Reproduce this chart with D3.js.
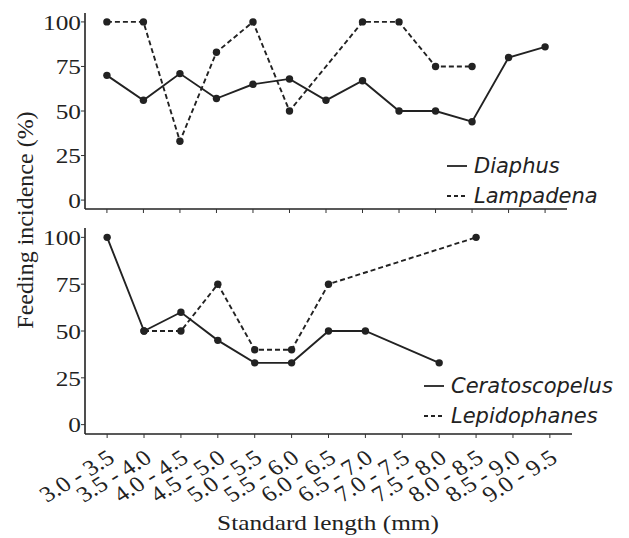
<!DOCTYPE html>
<html>
<head>
<meta charset="utf-8">
<script src="https://cdn.jsdelivr.net/npm/d3@7"></script>
<style>
  body { margin: 0; background: #fff; }
  .serif-text { font-family: 'Liberation Serif', 'Times New Roman', serif; fill: #222; }
  .legend-text { font-family: 'DejaVu Sans', Verdana, sans-serif; font-style: italic; fill: #222; }
</style>
</head>
<body>
<div id="chart"></div>
<script>
const sizeClasses = ['3.0 - 3.5', '3.5 - 4.0', '4.0 - 4.5', '4.5 - 5.0', '5.0 - 5.5', '5.5 - 6.0',
  '6.0 - 6.5', '6.5 - 7.0', '7.0 - 7.5', '7.5 - 8.0', '8.0 - 8.5', '8.5 - 9.0', '9.0 - 9.5'];
const yTicks = [0, 25, 50, 75, 100];

// null = no fish measured in that size class
const diaphus = [70, 56, 71, 57, 65, 68, 56, 67, 50, 50, 44, 80, 86];
const lampadena = [100, 100, 33, 83, 100, 50, null, 100, 100, 75, 75, null, null];
const ceratoscopelus = [100, 50, 60, 45, 33, 33, 50, 50, null, 33, null, null, null];
const lepidophanes = [null, 50, 50, 75, 40, 40, 75, null, null, null, 100, null, null];

const width = 629;
const height = 538;
const axisLeft = 85;
// the source figure is a bit wider than tall, serif text is stretched to match
const stretch = 1.15;

const svg = d3.select('#chart').append('svg')
  .attr('width', width)
  .attr('height', height);

/* Method to draw one panel with two series and its legend
   Params: @top / @bottom / @right are the pixel limits of the panel
           @series is a list of { name, values, dashed }
           @legendX, @legendY position the legend block
   Returns the x scale so the labels under the last panel can use it
*/
function AppendPanel(top, bottom, right, series, legendX, legendY) {
  const x = d3.scalePoint()
    .domain(sizeClasses)
    .range([axisLeft, right])
    .padding(0.6);
  const y = d3.scaleLinear().domain([-5, 105]).range([bottom, top]);

  // axes lines
  svg.append('line')
    .attr('x1', axisLeft).attr('x2', axisLeft)
    .attr('y1', top).attr('y2', bottom)
    .attr('stroke', '#222').attr('stroke-width', 1.6);
  svg.append('line')
    .attr('x1', axisLeft).attr('x2', right)
    .attr('y1', bottom).attr('y2', bottom)
    .attr('stroke', '#222').attr('stroke-width', 1.6);

  // y ticks and labels
  yTicks.forEach((t) => {
    svg.append('line')
      .attr('x1', axisLeft - 4).attr('x2', axisLeft)
      .attr('y1', y(t)).attr('y2', y(t))
      .attr('stroke', '#333').attr('stroke-width', 1);
    svg.append('text')
      .classed('serif-text', true)
      .attr('transform', `translate(${axisLeft - 4},${y(t)}) scale(${stretch},1)`)
      .attr('dy', '0.35em')
      .attr('text-anchor', 'end')
      .style('font-size', '22px')
      .text(t);
  });

  // x ticks
  sizeClasses.forEach((c) => {
    svg.append('line')
      .attr('x1', x(c)).attr('x2', x(c))
      .attr('y1', bottom).attr('y2', bottom + 4)
      .attr('stroke', '#333').attr('stroke-width', 1);
  });

  const line = d3.line()
    .x((d) => x(d.c))
    .y((d) => y(d.v));

  series.forEach((s) => {
    // gaps are bridged, so drop missing values before drawing the path
    const pts = s.values.map((v, i) => ({ c: sizeClasses[i], v })).filter((d) => d.v !== null);
    svg.append('path')
      .datum(pts)
      .attr('d', line)
      .attr('fill', 'none')
      .attr('stroke', '#222')
      .attr('stroke-width', 1.9)
      .attr('stroke-dasharray', s.dashed ? '5,3' : null);
    svg.selectAll(null)
      .data(pts)
      .enter()
      .append('circle')
      .attr('cx', (d) => x(d.c))
      .attr('cy', (d) => y(d.v))
      .attr('r', 3.7)
      .attr('fill', '#222');
  });

  // legend
  series.forEach((s, i) => {
    const ly = legendY + i * 30;
    svg.append('line')
      .attr('x1', legendX).attr('x2', legendX + 20)
      .attr('y1', ly - 7).attr('y2', ly - 7)
      .attr('stroke', '#222')
      .attr('stroke-width', 1.8)
      .attr('stroke-dasharray', s.dashed ? '4,3' : null);
    svg.append('text')
      .classed('legend-text', true)
      .attr('x', legendX + 27)
      .attr('y', ly)
      .style('font-size', '21px')
      .text(s.name);
  });
  return x;
}

AppendPanel(13, 209, 567, [
  { name: 'Diaphus', values: diaphus, dashed: false },
  { name: 'Lampadena', values: lampadena, dashed: true },
], 447, 173);

const xBottom = AppendPanel(228, 434, 572, [
  { name: 'Ceratoscopelus', values: ceratoscopelus, dashed: false },
  { name: 'Lepidophanes', values: lepidophanes, dashed: true },
], 424, 393);

// rotated size class labels under the bottom panel
sizeClasses.forEach((c) => {
  svg.append('text')
    .classed('serif-text', true)
    .attr('text-anchor', 'end')
    .attr('transform', `translate(${xBottom(c) + 9},${461}) scale(${stretch},1) rotate(-35)`)
    .style('font-size', '22px')
    .text(c);
});

svg.append('text')
  .classed('serif-text', true)
  .attr('transform', `translate(328,530) scale(${stretch},1)`)
  .attr('text-anchor', 'middle')
  .style('font-size', '22px')
  .text('Standard length (mm)');

svg.append('text')
  .classed('serif-text', true)
  .attr('transform', 'translate(33,220) rotate(-90)')
  .attr('text-anchor', 'middle')
  .style('font-size', '24px')
  .text('Feeding incidence (%)');
</script>
</body>
</html>
